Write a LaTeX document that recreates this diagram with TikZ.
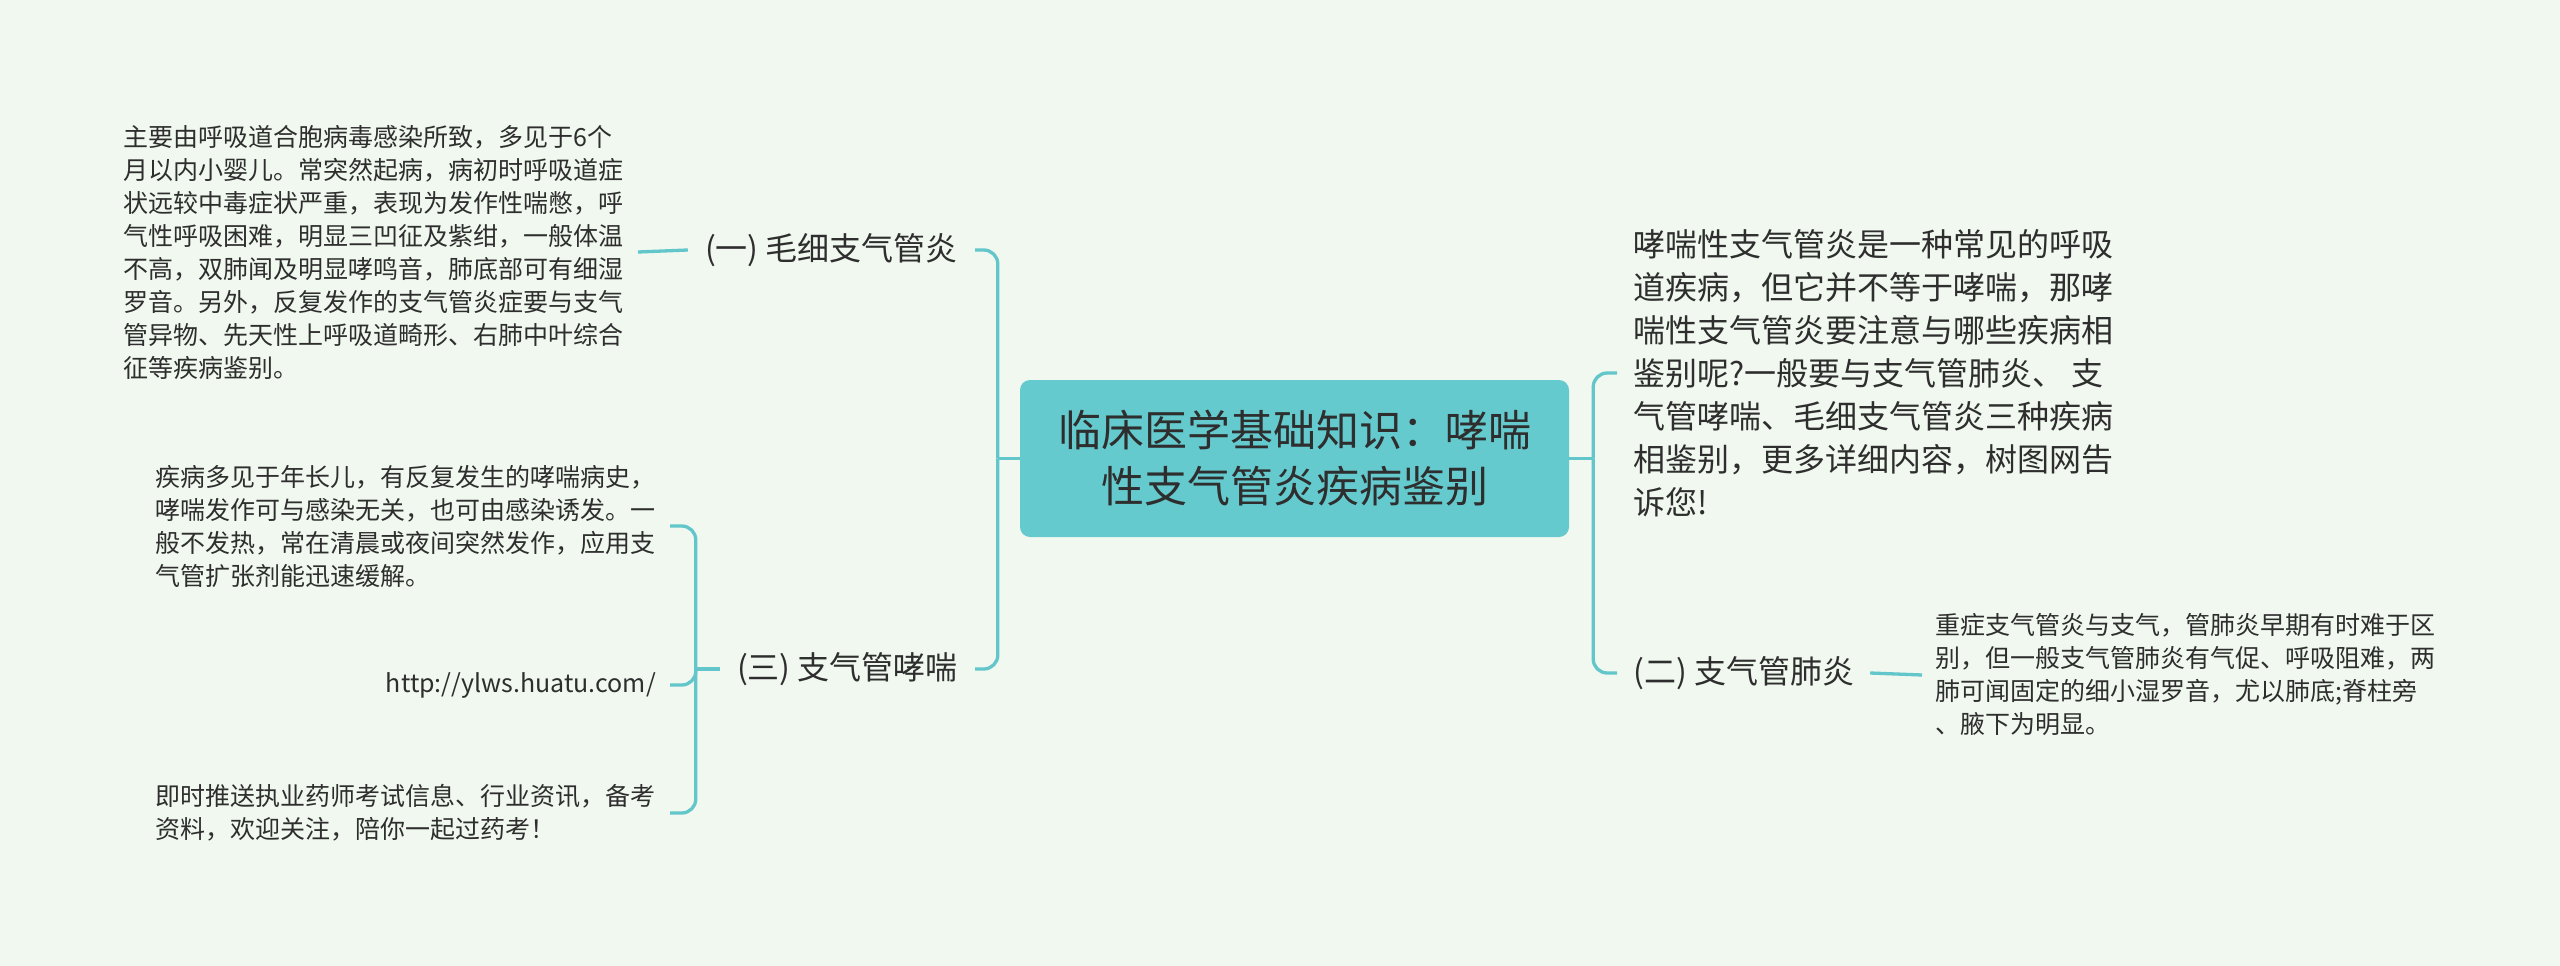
\documentclass[tikz,border=0pt]{standalone}
\usepackage{fontspec}
\setmainfont{Noto Sans CJK SC}
\usepackage{xcolor}
\usepackage{tikz}
\usetikzlibrary{positioning}
\definecolor{MapMint}{HTML}{F0F8EF}
\definecolor{MapTeal}{HTML}{62C6CA}
\definecolor{MapRoot}{HTML}{64CACE}
\definecolor{MapInk}{HTML}{2E2E2E}

\begin{document}
\begin{tikzpicture}[
  x=1pt,
  y=-1pt,
  rootbox/.style={
    fill=MapRoot,
    rounded corners=10pt,
    minimum width=549pt,
    minimum height=157pt,
    align=center,
    text=MapInk,
    font=\fontsize{43}{56}\selectfont
  },
  topic/.style={inner xsep=17pt, inner ysep=4pt, align=left, text=MapInk, font=\fontsize{32}{43}\selectfont},
  leaf/.style={inner xsep=14pt, inner ysep=4pt, align=left, text=MapInk, font=\fontsize{25}{33}\selectfont},
  link/.style={draw=MapTeal, line width=3.3pt, rounded corners=14pt}
]
\fill[MapMint] (0,0) rectangle (2560,966);

\node[rootbox] (root) at (1294.5,458.5) {临床医学基础知识：哮喘\\性支气管炎疾病鉴别};

% left side
\node[topic, anchor=east] (bron) at (975,250) {(一) 毛细支气管炎};
\node[topic, anchor=east] (asth) at (975,669) {(三) 支气管哮喘};
\node[leaf, anchor=east] (bronA) at (638,252) {主要由呼吸道合胞病毒感染所致，多见于6个\\月以内小婴儿。常突然起病，病初时呼吸道症\\状远较中毒症状严重，表现为发作性喘憋，呼\\气性呼吸困难，明显三凹征及紫绀，一般体温\\不高，双肺闻及明显哮鸣音，肺底部可有细湿\\罗音。另外，反复发作的支气管炎症要与支气\\管异物、先天性上呼吸道畸形、右肺中叶综合\\征等疾病鉴别。};
\node[leaf, anchor=east] (asthA) at (670,526) {疾病多见于年长儿，有反复发生的哮喘病史，\\哮喘发作可与感染无关，也可由感染诱发。一\\般不发热，常在清晨或夜间突然发作，应用支\\气管扩张剂能迅速缓解。};
\node[leaf, anchor=east] (url) at (670,685) {http://ylws.huatu.com/};
\node[leaf, anchor=east] (asthB) at (670,813) {即时推送执业药师考试信息、行业资讯，备考\\资料，欢迎关注，陪你一起过药考！};

% right side
\node[topic, anchor=west, inner xsep=16pt] (intro) at (1617,373) {哮喘性支气管炎是一种常见的呼吸\\道疾病，但它并不等于哮喘，那哮\\喘性支气管炎要注意与哪些疾病相\\鉴别呢?一般要与支气管肺炎、 支\\气管哮喘、毛细支气管炎三种疾病\\相鉴别，更多详细内容，树图网告\\诉您!};
\node[topic, anchor=west, inner xsep=16pt] (pneu) at (1617,673) {(二) 支气管肺炎};
\node[leaf, anchor=west, inner xsep=13pt] (pneuA) at (1922,675) {重症支气管炎与支气，管肺炎早期有时难于区\\别，但一般支气管肺炎有气促、呼吸阻难，两\\肺可闻固定的细小湿罗音，尤以肺底;脊柱旁\\、腋下为明显。};

\draw[link] (root.west) -- ++(-22,0) coordinate (lj);
\draw[link] (lj) |- (bron.east);
\draw[link] (lj) |- (asth.east);
\draw[link] (bron.west) -- (bronA.east);
\draw[link] (asth.west) -- ++(-24,0) coordinate (aj);
\draw[link] (aj) |- (asthA.east);
\draw[link] (aj) |- (url.east);
\draw[link] (aj) |- (asthB.east);

\draw[link] (root.east) -- ++(24,0) coordinate (rj);
\draw[link] (rj) |- (intro.west);
\draw[link] (rj) |- (pneu.west);
\draw[link] (pneu.east) -- (pneuA.west);
\end{tikzpicture}
\end{document}
